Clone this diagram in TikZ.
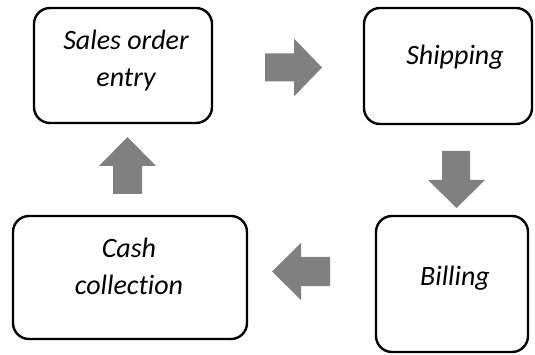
\documentclass[tikz,border=0pt]{standalone}
\usepackage{fontspec}
\setmainfont{Carlito}[Ligatures={NoCommon}]
\definecolor{arrowgray}{HTML}{808080}
\begin{document}
\begin{tikzpicture}[x=1pt,y=-1pt,
  box/.style={draw=black,line width=2.4pt,rounded corners=16pt,rectangle,inner sep=0pt},
  lbl/.style={font=\fontsize{28}{37}\selectfont\itshape,align=center,inner sep=0pt,anchor=base},
  blockarrow/.style={fill=arrowgray,draw=none}]
\useasboundingbox (0,0) rectangle (535,355);
% boxes
\node[box,minimum width=178pt,minimum height=115pt] (sales) at (123,65.5) {};
\node[box,minimum width=168pt,minimum height=116pt] (ship) at (448,66) {};
\node[box,minimum width=152pt,minimum height=136pt] (bill) at (452,284) {};
\node[box,minimum width=234pt,minimum height=123pt] (cash) at (130,277.5) {};
% labels (base anchor = baseline of last line)
\node[lbl] (salesT) at (126,86.7) {Sales order\\entry};
\node[lbl] (shipT) at (455,65) {Shipping};
\node[lbl] (billT) at (455,285) {Billing};
\node[lbl] (cashT) at (129,294.5) {Cash\\collection};
% block arrows
\coordinate (a1) at (265,67.5);
\coordinate (a2) at (456,151);
\coordinate (a3) at (330,271.5);
\coordinate (a4) at (127.5,194);
\fill[blockarrow] (a1) ++(0,-14) -- ++(29,0) -- ++(0,-15) -- ++(28,29) -- ++(-28,29) -- ++(0,-15) -- ++(-29,0) -- cycle;
\fill[blockarrow] (a2) ++(-14,0) -- ++(0,29) -- ++(-14,0) -- ++(28.5,28) -- ++(28.5,-28) -- ++(-15,0) -- ++(0,-29) -- cycle;
\fill[blockarrow] (a3) ++(0,-14.5) -- ++(-29,0) -- ++(0,-14) -- ++(-29,28.5) -- ++(29,28.5) -- ++(0,-14) -- ++(29,0) -- cycle;
\fill[blockarrow] (a4) ++(-14.5,0) -- ++(0,-28) -- ++(-14,0) -- ++(28.5,-29) -- ++(28.5,29) -- ++(-14,0) -- ++(0,28) -- cycle;
\end{tikzpicture}
\end{document}
